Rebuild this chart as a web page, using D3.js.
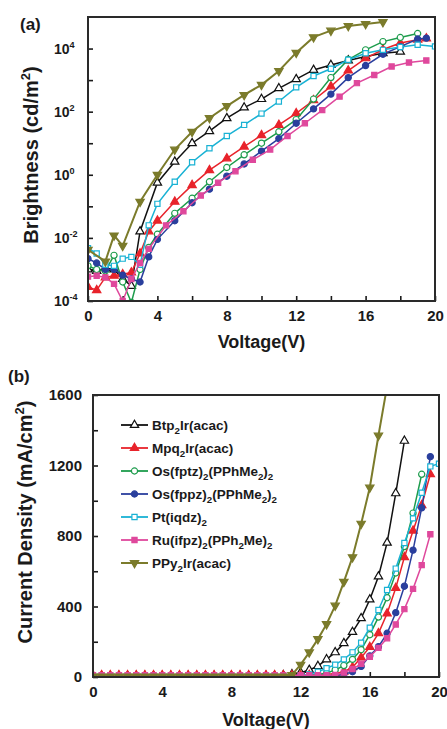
<!DOCTYPE html>
<html>
<head>
<meta charset="utf-8">
<script src="https://cdn.jsdelivr.net/npm/d3@7"></script>
<style>
  body { margin: 0; background: #fff; }
  svg { display: block; font-family: "Liberation Sans", Arial, sans-serif; font-weight: bold; }
</style>
</head>
<body>
<svg id="chart" width="447" height="729"></svg>
<script>
// ---- series info (legend order) ----
const seriesNames = ['Btp_2Ir(acac)', 'Mpq_2Ir(acac)', 'Os(fptz)_2(PPhMe_2)_2', 'Os(fppz)_2(PPhMe_2)_2',
  'Pt(iqdz)_2', 'Ru(ifpz)_2(PPh_2Me)_2', 'PPy_2Ir(acac)'];
const seriesColors = ['#111111', '#e8232b', '#1d9c4c', '#2a3f9d', '#19b2d4', '#df489c', '#7b7b2b'];
const seriesShapes = ['triUp', 'triUp', 'circle', 'circle', 'square', 'square', 'triDown'];
const seriesFilled = [false, true, false, true, false, true, true];

// ---- (a) brightness, [voltage V, cd/m2] ----
const lumBtp = [[0,1.0e-3],[0.5,9e-4],[1,1.1e-3],[1.5,1.0e-3],[2,5e-4],[2.5,3e-4],[3,1.6e-2],[4,0.56],[5,2.6],
  [6,10],[7,24],[8,62],[9,135],[10,250],[11,550],[12,1070],[13,2100],[14,3000],[15,4200],[16,5600],[17,7100],[18,7900]];
const lumMpq = [[0,2.8e-4],[0.5,2.2e-4],[1,5.6e-4],[1.5,6.3e-4],[2,7e-4],[2.5,8e-4],[3,3.2e-3],[3.5,1.6e-2],[4,3.5e-2],
  [5,0.14],[6,0.47],[7,1.4],[8,3.3],[9,7.8],[10,18],[11,38],[12,89],[13,230],[14,630],[15,2000],[16,4900],[17,9300],
  [18,15000],[19,19000],[19.5,21000]];
const lumFptz = [[0,1.3e-3],[0.5,1.0e-3],[1,9e-4],[1.5,2.8e-3],[2,4e-4],[2.5,9e-5],[3,1.0e-3],[3.5,5e-3],[4,1.3e-2],
  [5,6e-2],[6,0.18],[7,0.6],[8,1.7],[9,4.3],[10,10],[11,23],[12,56],[13,250],[14,1200],[15,4500],[16,9100],
  [17,16600],[18,22400],[19,30000]];
const lumFppz = [[0,2.2e-3],[0.5,1.6e-3],[1,1.0e-3],[1.5,1.0e-3],[2,6.6e-4],[2.5,5e-4],[3,4e-4],[3.5,2.5e-3],[4,9e-3],
  [5,3.5e-2],[6,0.13],[7,0.35],[8,0.9],[9,2.2],[10,5.6],[11,14],[12,43],[13,123],[14,360],[15,1200],[16,2900],
  [17,6600],[18,11500],[19,20000],[19.5,21400]];
const lumIqdz = [[0,4.7e-3],[0.5,3.2e-3],[1,1.4e-3],[1.5,1.3e-3],[2,2.2e-3],[2.5,2.5e-3],[3,1.4e-3],[3.5,2.5e-2],[4,0.12],
  [5,0.6],[6,2.5],[7,6.9],[8,17],[9,38],[10,87],[11,210],[12,590],[13,1350],[14,2300],[15,4400],[16,7100],
  [17,9100],[18,11200],[19,13200],[20,11700]];
const lumIfpz = [[0,5.9e-4],[0.5,6.3e-4],[1,5.6e-4],[1.5,3.5e-4],[2,1.0e-4],[2.5,5e-4],[3,1.6e-3],[3.5,4.5e-3],
  [4.5,2.5e-2],[5.5,7e-2],[6.5,0.22],[7.5,0.56],[8.5,1.3],[9.5,3.0],[10.5,6.3],[11.5,17],[12.5,43],[13.5,112],
  [14.5,300],[15.5,800],[16.5,1450],[17.5,2700],[18.5,3600],[19.5,4200]];
const lumPpy = [[0,4.2e-3],[1,1.8e-3],[1.5,1.2e-2],[2,5.6e-3],[3,0.14],[4,1.0],[5,6.3],[6,23],[7,63],[8,150],
  [9,340],[10,710],[11,1950],[12,7400],[13,23000],[14,37000],[15,52000],[16,60000],[17,69000]];
const lumSeries = [lumBtp, lumMpq, lumFptz, lumFppz, lumIqdz, lumIfpz, lumPpy];

// ---- (b) current density, mA/cm2, on a shared voltage grid ----
const voltB = [0,0.5,1,1.5,2,2.5,3,3.5,4,4.5,5,5.5,6,6.5,7,7.5,8,8.5,9,9.5,10,10.5,11,11.5,
  12,12.5,13,13.5,14,14.5,15,15.5,16,16.5,17,17.5,18,18.5,19,19.5,20];
const jBtp = [5,5,5,5,5,5,5,5,5,5,5,5,5,5,5,5,5,5,5,5,6,7,10,15,
  25,40,62,100,140,192,255,333,440,570,762,1042,1340,null,null,null,null];
const jMpq = [10,10,10,10,10,10,10,10,10,10,10,10,10,10,10,10,10,10,10,10,10,10,10,10,
  10,11,12,14,20,30,55,110,170,248,360,505,680,830,975,1150,null];
const jFptz = [6,6,6,6,6,6,6,6,6,6,6,6,6,6,6,6,6,6,6,6,6,6,6,6,
  8,10,14,22,40,65,100,155,240,340,450,590,740,930,1150,null,null];
const jFppz = [6,6,6,6,6,6,6,6,6,6,6,6,6,6,6,6,6,6,6,6,6,6,6,6,
  6,6,7,7,8,15,30,60,120,172,248,365,515,720,960,1250,null];
const jIqdz = [6,6,6,6,6,6,6,6,6,6,6,6,6,6,6,6,6,6,6,6,6,6,6,6,
  8,15,30,50,70,100,140,195,280,380,494,615,760,900,1045,1195,1210];
const jIfpz = [10,10,10,10,10,10,10,10,10,10,10,10,10,10,10,10,10,10,10,10,10,10,10,10,
  10,10,10,10,12,25,45,75,115,165,220,298,385,500,635,810,null];
const jPpy = [3,3,3,3,3,3,3,3,3,3,3,3,3,3,3,3,3,3,3,3,3,3,3,12,
  70,140,215,300,405,540,680,870,1075,1370,1650,null,null,null,null,null,null];
const jSeries = [jBtp, jMpq, jFptz, jFppz, jIqdz, jIfpz, jPpy];

const xTicksMajor = [0, 4, 8, 12, 16, 20];
const lumExponents = [-4, -3, -2, -1, 0, 1, 2, 3, 4];
const jTicksMajor = [0, 400, 800, 1200, 1600];

// ---- layout ----
const svg = d3.select('#chart');
const ink = '#1a1a1a';
const boxA = { left: 88, right: 435, top: 17, bottom: 301 };
const boxB = { left: 93, right: 439, top: 395, bottom: 677 };

// text with "_n" subscripts and "^n" superscripts
function richText(sel, label, size) {
  const parts = label.split(/([_^][-\d]+)/).filter(s => s);
  let shift = 0;
  parts.forEach(p => {
    let target = 0, fs = size, txt = p;
    if (p[0] === '_') { target = size * 0.3; fs = size * 0.72; txt = p.slice(1); }
    if (p[0] === '^') { target = -size * 0.42; fs = size * 0.65; txt = p.slice(1); }
    sel.append('tspan').attr('dy', target - shift).attr('font-size', fs).text(txt);
    shift = target;
  });
}

function marker(g, i, x, y) {
  const shape = seriesShapes[i];
  const type = shape === 'circle' ? d3.symbolCircle : shape === 'square' ? d3.symbolSquare : d3.symbolTriangle;
  const size = shape === 'circle' ? 30 : shape === 'square' ? 27 : 30;
  g.append('path')
    .attr('d', d3.symbol().type(type).size(size)())
    .attr('transform', `translate(${x},${y})` + (shape === 'triDown' ? ' rotate(180)' : ''))
    .attr('fill', seriesFilled[i] ? seriesColors[i] : '#fff')
    .attr('stroke', seriesColors[i]).attr('stroke-width', 1.2);
}

function styleAxis(g) {
  g.select('.domain').remove();
  g.selectAll('.tick line').attr('stroke', ink).attr('stroke-width', 1.6);
  g.selectAll('.tick text').attr('fill', ink).attr('font-size', '15px').attr('font-weight', 'bold');
}

// ======== panel (a) ========
const xA = d3.scaleLinear().domain([0, 20]).range([boxA.left, boxA.right]);
const yA = d3.scaleLog().domain([1e-4, 1e5]).range([boxA.bottom, boxA.top]);

svg.append('clipPath').attr('id', 'clipA').append('rect')
  .attr('x', boxA.left).attr('y', boxA.top).attr('width', boxA.right - boxA.left).attr('height', boxA.bottom - boxA.top);

svg.append('g').attr('transform', `translate(0,${boxA.bottom})`)
  .call(d3.axisBottom(xA).tickValues(d3.range(0, 21, 2)).tickSize(-5).tickPadding(9)
    .tickFormat(d => xTicksMajor.includes(d) ? d : ''))
  .call(styleAxis);

const yAxisA = svg.append('g').attr('transform', `translate(${boxA.left},0)`)
  .call(d3.axisLeft(yA).tickValues(lumExponents.map(e => Math.pow(10, e))).tickSize(-5).tickFormat(''))
  .call(styleAxis);
lumExponents.filter(e => e % 2 === 0).forEach(e => {
  const t = svg.append('text').attr('x', 54).attr('y', yA(Math.pow(10, e)) + 5)
    .attr('fill', ink).attr('font-size', 14);
  richText(t, '10^' + e, 14);
});

const lineA = d3.line().x(d => xA(d[0])).y(d => yA(d[1]));
const plotA = svg.append('g').attr('clip-path', 'url(#clipA)');
lumSeries.forEach((data, i) => {
  const g = plotA.append('g');
  g.append('path').datum(data).attr('d', lineA).attr('fill', 'none')
    .attr('stroke', seriesColors[i]).attr('stroke-width', i === 6 ? 2 : 1.5);
  data.forEach(d => marker(g, i, xA(d[0]), yA(d[1])));
});

svg.append('rect').attr('x', boxA.left).attr('y', boxA.top)
  .attr('width', boxA.right - boxA.left).attr('height', boxA.bottom - boxA.top)
  .attr('fill', 'none').attr('stroke', '#2a2a2a').attr('stroke-width', 2);

svg.append('text').attr('x', 20).attr('y', 30).attr('font-size', 17).attr('fill', ink).text('(a)');
svg.append('text').attr('x', (boxA.left + boxA.right) / 2).attr('y', 348)
  .attr('text-anchor', 'middle').attr('font-size', 18).attr('fill', ink).text('Voltage(V)');
const yLabA = svg.append('text').attr('transform', `translate(38,${(boxA.top + boxA.bottom) / 2 - 4}) rotate(-90)`)
  .attr('text-anchor', 'middle').attr('font-size', 20).attr('fill', ink);
richText(yLabA, 'Brightness (cd/m^2)', 20);

// ======== panel (b) ========
const xB = d3.scaleLinear().domain([0, 20]).range([boxB.left, boxB.right]);
const yB = d3.scaleLinear().domain([0, 1600]).range([boxB.bottom, boxB.top]);

svg.append('clipPath').attr('id', 'clipB').append('rect')
  .attr('x', boxB.left).attr('y', boxB.top).attr('width', boxB.right - boxB.left).attr('height', boxB.bottom - boxB.top);

svg.append('g').attr('transform', `translate(0,${boxB.bottom})`)
  .call(d3.axisBottom(xB).tickValues(d3.range(0, 21, 2)).tickSize(-5).tickPadding(9)
    .tickFormat(d => xTicksMajor.includes(d) ? d : ''))
  .call(styleAxis);
svg.append('g').attr('transform', `translate(${boxB.left},0)`)
  .call(d3.axisLeft(yB).tickValues(d3.range(0, 1601, 200)).tickSize(-5).tickPadding(11)
    .tickFormat(d => jTicksMajor.includes(d) ? d : ''))
  .call(styleAxis);

const lineB = d3.line().defined(d => d[1] != null).x(d => xB(d[0])).y(d => yB(d[1]));
const plotB = svg.append('g').attr('clip-path', 'url(#clipB)');
jSeries.forEach((vals, i) => {
  const data = voltB.map((v, k) => [v, vals[k]]);
  const g = plotB.append('g');
  g.append('path').datum(data).attr('d', lineB).attr('fill', 'none')
    .attr('stroke', seriesColors[i]).attr('stroke-width', i === 6 ? 2 : 1.5);
  data.filter(d => d[1] != null).forEach(d => marker(g, i, xB(d[0]), yB(d[1])));
});

svg.append('rect').attr('x', boxB.left).attr('y', boxB.top)
  .attr('width', boxB.right - boxB.left).attr('height', boxB.bottom - boxB.top)
  .attr('fill', 'none').attr('stroke', '#2a2a2a').attr('stroke-width', 2);

// legend
const legend = svg.append('g');
seriesNames.forEach((name, i) => {
  const cy = 425 + i * 23;
  legend.append('line').attr('x1', 121).attr('x2', 148).attr('y1', cy).attr('y2', cy)
    .attr('stroke', seriesColors[i]).attr('stroke-width', i === 6 ? 2 : 1.8);
  marker(legend, i, 134.5, cy);
  const t = legend.append('text').attr('x', 152).attr('y', cy + 5).attr('font-size', 13.5).attr('fill', ink);
  richText(t, name, 13.5);
});

svg.append('text').attr('x', 8).attr('y', 382).attr('font-size', 17).attr('fill', ink).text('(b)');
svg.append('text').attr('x', (boxB.left + boxB.right) / 2).attr('y', 726)
  .attr('text-anchor', 'middle').attr('font-size', 18).attr('fill', ink).text('Voltage(V)');
const yLabB = svg.append('text').attr('transform', `translate(32,${(boxB.top + boxB.bottom) / 2 - 14}) rotate(-90)`)
  .attr('text-anchor', 'middle').attr('font-size', 20).attr('fill', ink);
richText(yLabB, 'Current Density (mA/cm^2)', 20);
</script>
</body>
</html>
